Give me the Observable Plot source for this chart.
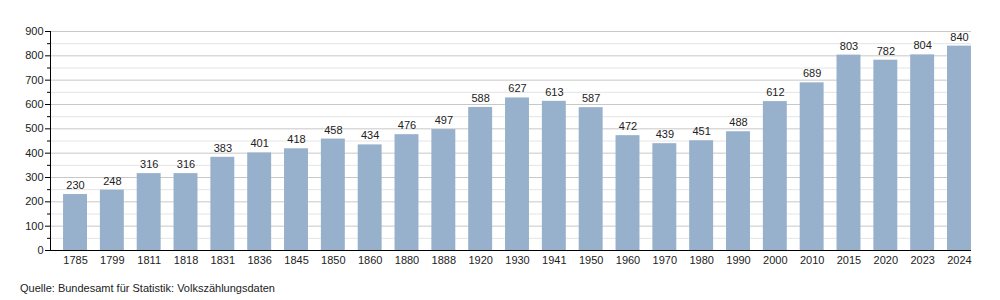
<!DOCTYPE html>
<html><head><meta charset="utf-8">
<script src="https://cdn.jsdelivr.net/npm/d3@7"></script>
<script src="https://cdn.jsdelivr.net/npm/@observablehq/plot@0.6"></script>
<style>
body{margin:0;background:#fff;font-family:"Liberation Sans",Arial,sans-serif;}
#cap{position:absolute;left:20px;top:282px;font-size:11px;color:#222;}
</style></head><body>
<div id="chart"></div>
<div id="cap">Quelle: Bundesamt für Statistik: Volkszählungsdaten</div>
<script>
const years = ["1785","1799","1811","1818","1831","1836","1845","1850","1860","1880","1888","1920","1930","1941","1950","1960","1970","1980","1990","2000","2010","2015","2020","2023","2024"];
const population = [230,248,316,316,383,401,418,458,434,476,497,588,627,613,587,472,439,451,488,612,689,803,782,804,840];
const majorTicks = [0,100,200,300,400,500,600,700,800,900];
const minorTicks = [50,150,250,350,450,550,650,750,850];

const data = years.map((y,i)=>({year:y, value:population[i]}));

const chart = Plot.plot({
  width:1000, height:275,
  marginLeft:50, marginRight:29, marginTop:31, marginBottom:25,
  style:{fontFamily:"'Liberation Sans',Arial,sans-serif", fontSize:"11px", color:"#222", background:"#fff"},
  x:{type:"band", domain:years, range:[56.6,977.4], paddingInner:0.35, paddingOuter:0.175, round:false, label:null},
  y:{domain:[0,900], label:null},
  marks:[
    Plot.ruleY(minorTicks,{stroke:"#e4e4e4", strokeWidth:1}),
    Plot.ruleY(majorTicks.filter(d=>d>0),{stroke:"#c8c8c8", strokeWidth:1}),
    Plot.barY(data,{x:"year", y:"value", fill:"#97b1cc"}),
    Plot.text(data,{x:"year", y:"value", text:d=>String(d.value), dy:-9, fontSize:11, fill:"#222"}),
    Plot.axisY(majorTicks,{tickSize:5, tickPadding:2, fontSize:11, stroke:"#000"}),
    Plot.axisY(minorTicks,{tickSize:3, tickFormat:()=>"", stroke:"#000"}),
    Plot.axisX({tickSize:0, tickPadding:6, fontSize:11}),
    Plot.frame({anchor:"left", stroke:"#000"}),
    Plot.ruleY([0],{stroke:"#000", strokeWidth:1})
  ]
});
document.getElementById("chart").appendChild(chart);
</script>
</body></html>
